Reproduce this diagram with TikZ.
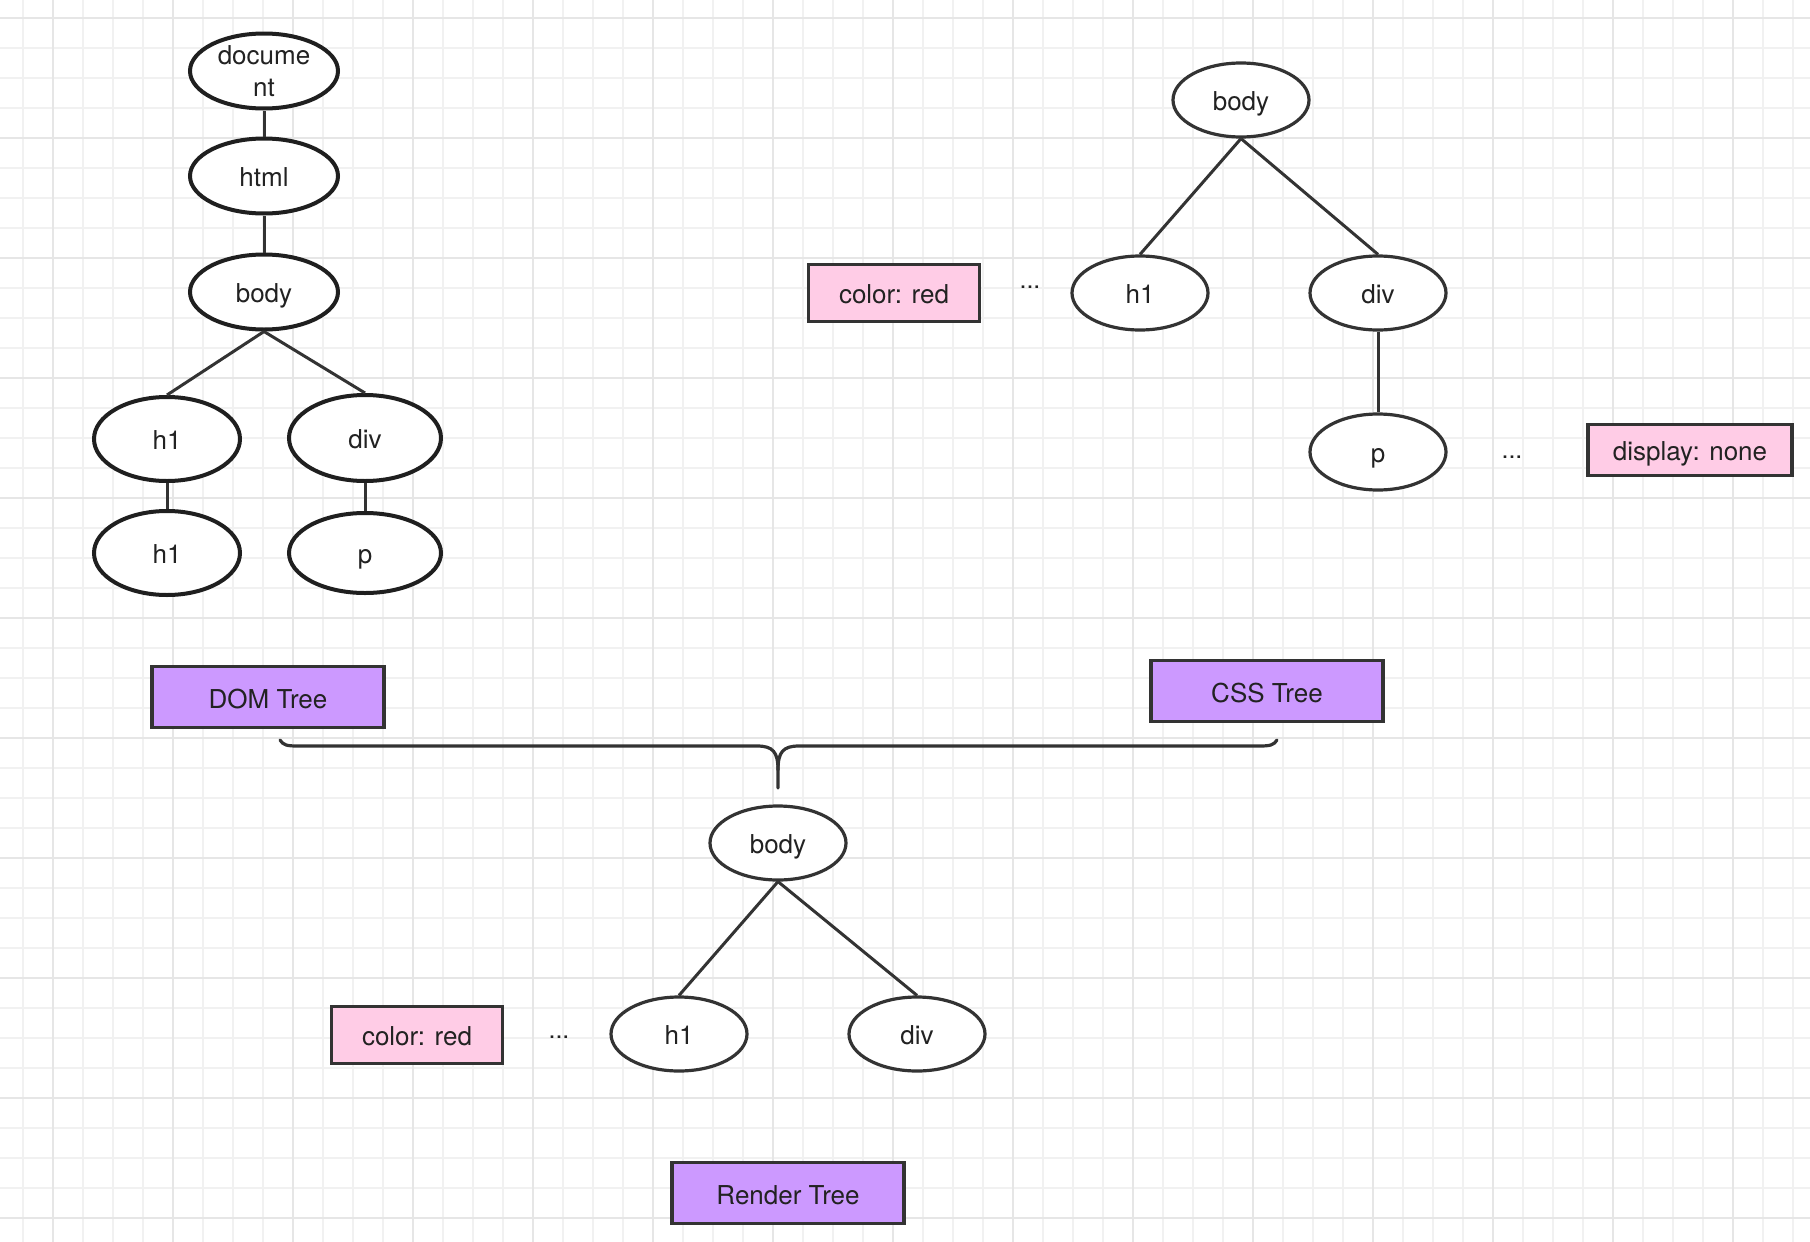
\documentclass[tikz,border=0pt]{standalone}
\usepackage{fontspec}
\setmainfont{TeX Gyre Heros}
\usepackage{tikz}
\usetikzlibrary{shapes.geometric, positioning}
\definecolor{gridminor}{HTML}{F1F1F1}
\definecolor{gridmajor}{HTML}{E6E6E6}
\definecolor{inkgray}{HTML}{333333}
\definecolor{textgray}{HTML}{222222}
\definecolor{treepurple}{HTML}{CC99FF}
\definecolor{rulepink}{HTML}{FFCCE6}

\begin{document}
\begin{tikzpicture}[x=0.5pt, y=-0.5pt,
  every node/.style={font=\fontsize{13}{16}\selectfont, text=textgray},
  domnode/.style={ellipse, draw=black!88, line width=2pt, fill=white,
    minimum width=74pt, minimum height=37.5pt, inner sep=0pt,
    text height=10.5pt, text depth=0pt},
  domleaf/.style={domnode, minimum width=73pt, minimum height=42pt},
  cssnode/.style={ellipse, draw=inkgray, line width=1.6pt, fill=white,
    minimum width=68pt, minimum height=37pt, inner sep=0pt,
    text height=10.5pt, text depth=0pt},
  treelabel/.style={draw=inkgray, line width=1.7pt, fill=treepurple,
    minimum width=116pt, minimum height=30.5pt, inner sep=0pt,
    text height=11pt, text depth=0pt},
  rulebox/.style={draw=inkgray, line width=1.7pt, fill=rulepink,
    minimum width=85.5pt, minimum height=28.5pt, inner sep=0pt,
    text height=10.5pt, text depth=0pt},
  dots/.style={inner sep=0pt, font=\fontsize{12.5}{14}\selectfont},
  link/.style={draw=inkgray, line width=1.5pt}]
\useasboundingbox (0,0) rectangle (1810,1242);
\fill[white] (0,0) rectangle (1810,1242);
% background grid
\foreach \gx in {23,53,...,1793} \draw[gridminor, line width=0.6pt] (\gx,0) -- (\gx,1242);
\foreach \gy in {18,48,...,1218} \draw[gridminor, line width=0.6pt] (0,\gy) -- (1810,\gy);
\foreach \gx in {53,173,...,1733} \draw[gridmajor, line width=0.9pt] (\gx,0) -- (\gx,1242);
\foreach \gy in {18,138,...,1218} \draw[gridmajor, line width=0.9pt] (0,\gy) -- (1810,\gy);

% DOM tree
\node[domnode, align=center, text height={}, text depth={}] (ddoc) at (264,71) {docume\\nt};
\node[domnode] (dhtml) at (264,176) {html};
\node[domnode] (dbody) at (264,292) {body};
\node[domleaf] (dh1) at (167,439) {h1};
\node[domleaf, minimum width=76pt, minimum height=43pt] (ddiv) at (365,438) {div};
\node[domleaf] (dh1b) at (167,553) {h1};
\node[domleaf, minimum width=76pt, minimum height=40pt] (dp) at (365,553) {p};
\draw[link] (ddoc) -- (dhtml);
\draw[link] (dhtml) -- (dbody);
\draw[link] (dbody.south) -- (dh1.north);
\draw[link] (dbody.south) -- (ddiv.north);
\draw[link] (dh1) -- (dh1b);
\draw[link] (ddiv) -- (dp);
\node[treelabel] (domlabel) at (268,697) {DOM Tree};

% CSS tree
\node[cssnode] (cbody) at (1241,100) {body};
\node[cssnode] (ch1) at (1140,293) {h1};
\node[cssnode] (cdiv) at (1378,293) {div};
\node[cssnode, minimum height=38pt] (cp) at (1378,452) {p};
\draw[link] (cbody.south) -- (ch1.north);
\draw[link] (cbody.south) -- (cdiv.north);
\draw[link] (cdiv) -- (cp);
\node[rulebox] (ccolor) at (894,293) {color: red};
\node[dots] (cdotsa) at (1030,287) {...};
\node[dots] (cdotsb) at (1512,457) {...};
\node[rulebox, minimum width=102pt, minimum height=25.5pt] (cdisplay) at (1690,450) {display: none};
\node[treelabel] (csslabel) at (1267,691) {CSS Tree};

% merge brace
\coordinate (tip) at (778,788);
\draw[inkgray, line width=1.6pt, line cap=round]
  (280,740) .. controls (283,745) and (287,746) .. (297,746) -- (757,746)
  .. controls (773,746) and (778,752) .. (778,770) -- (tip);
\draw[inkgray, line width=1.6pt, line cap=round]
  (1277,740) .. controls (1274,745) and (1270,746) .. (1260,746) -- (799,746)
  .. controls (783,746) and (778,752) .. (778,770);

% Render tree
\node[cssnode] (rbody) at (778,843) {body};
\node[cssnode] (rh1) at (679,1034) {h1};
\node[cssnode] (rdiv) at (917,1034) {div};
\draw[link] (rbody.south) -- (rh1.north);
\draw[link] (rbody.south) -- (rdiv.north);
\node[rulebox] (rcolor) at (417,1035) {color: red};
\node[dots] (rdots) at (559,1037) {...};
\node[treelabel] (renderlabel) at (788,1193) {Render Tree};
\end{tikzpicture}
\end{document}
